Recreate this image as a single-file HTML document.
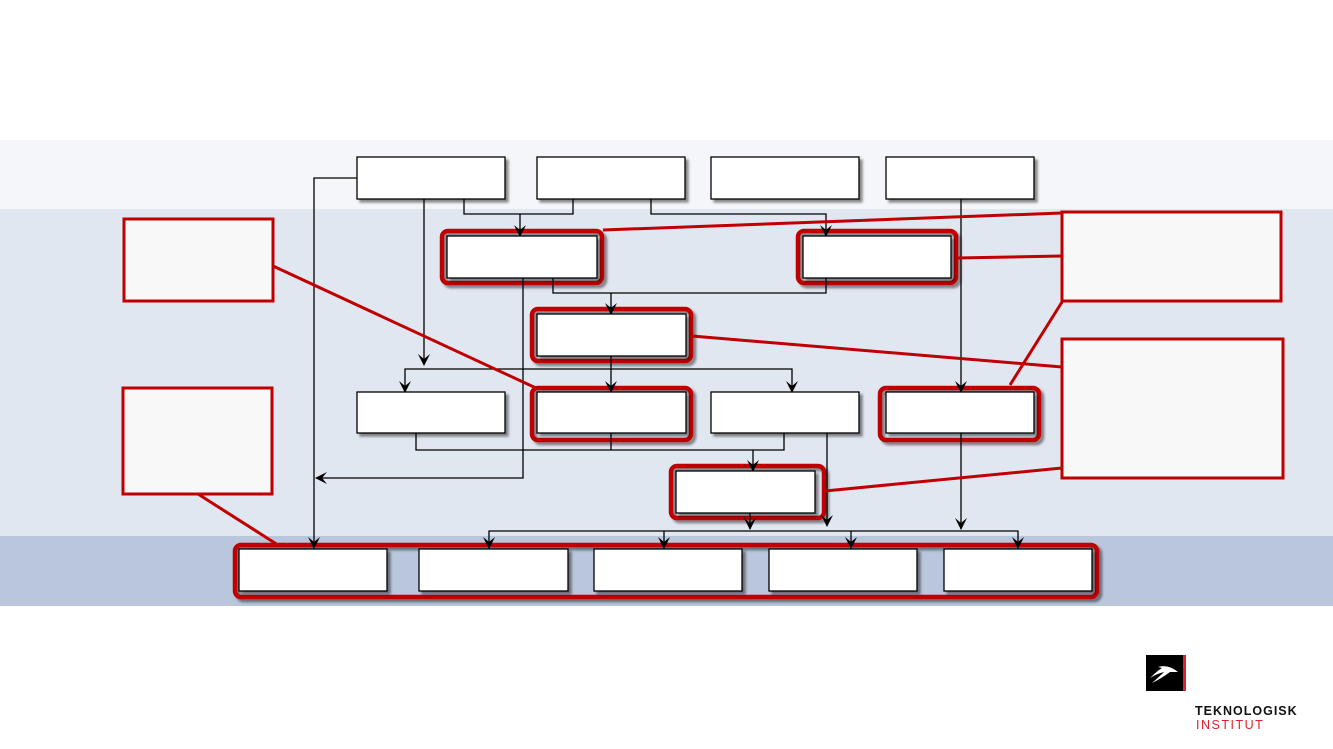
<!DOCTYPE html>
<html><head><meta charset="utf-8"><style>
html,body{margin:0;padding:0;background:#fff;width:1333px;height:749px;overflow:hidden}
</style></head><body>
<svg width="1333" height="749" xmlns="http://www.w3.org/2000/svg" style="position:absolute;left:0;top:0">
<defs>
<filter id="sh" x="-10%" y="-10%" width="130%" height="140%"><feDropShadow dx="3" dy="3" stdDeviation="1.2" flood-color="#000" flood-opacity="0.45"/></filter>
<path id="ad" d="M-6,-12 L0,0 L6,-12 L0,-7 Z" fill="#000"/>
</defs>
<rect x="0" y="140" width="1333" height="69" fill="#f5f6f9"/>
<rect x="0" y="209" width="1333" height="327" fill="#e1e7f1"/>
<rect x="0" y="536" width="1333" height="70" fill="#b9c6dc"/>

<g fill="none" stroke="#c00000" stroke-width="4.5" filter="url(#sh)">
<rect x="442" y="231" width="160" height="52" rx="6"/>
<rect x="798" y="231" width="158" height="52" rx="6"/>
<rect x="532" y="309" width="159" height="52" rx="6"/>
<rect x="532" y="388" width="159" height="52" rx="6"/>
<rect x="880" y="388" width="159" height="52" rx="6"/>
<rect x="671" y="466" width="153" height="52" rx="6"/>
<rect x="235" y="545" width="862" height="52" rx="6"/>
</g>

<g fill="none" stroke="#000" stroke-width="1.3">
<path d="M357,178 H314 V547"/>
<path d="M424,199 V364"/>
<path d="M464,199 V214 H573 V199"/>
<path d="M520,214 V235"/>
<path d="M651,199 V214 H826 V235"/>
<path d="M961,199 V391"/>
<path d="M523,278 V478 H316"/>
<path d="M553,278 V293 H826 V278"/>
<path d="M611,293 V313"/>
<path d="M611,356 V391"/>
<path d="M405,391 V369 H792 V391"/>
<path d="M416,433 V450 H784 V433"/>
<path d="M611,433 V450"/>
<path d="M753,450 V470"/>
<path d="M827,433 V526"/>
<path d="M961,433 V529"/>
<path d="M750,513 V529"/>
<path d="M489,548 V531 H1018 V548"/>
<path d="M664,531 V548"/>
<path d="M851,531 V548"/>
</g>
<g>
<use href="#ad" x="314" y="549"/>
<use href="#ad" x="424" y="366"/>
<use href="#ad" x="520" y="237"/>
<use href="#ad" x="826" y="237"/>
<use href="#ad" x="961" y="393"/>
<use href="#ad" x="611" y="315"/>
<use href="#ad" x="611" y="393"/>
<use href="#ad" x="405" y="393"/>
<use href="#ad" x="792" y="393"/>
<use href="#ad" x="753" y="472"/>
<use href="#ad" x="827" y="527"/>
<use href="#ad" x="961" y="530"/>
<use href="#ad" x="750" y="530"/>
<use href="#ad" x="489" y="549"/>
<use href="#ad" x="664" y="549"/>
<use href="#ad" x="851" y="549"/>
<use href="#ad" x="1018" y="549"/>
<path d="M315,478 L327,472 L322,478 L327,484 Z" fill="#000"/>
</g>

<g fill="#fff" stroke="#000" stroke-width="1.3" filter="url(#sh)">
<rect x="357" y="157" width="148" height="42"/>
<rect x="537" y="157" width="148" height="42"/>
<rect x="711" y="157" width="148" height="42"/>
<rect x="886" y="157" width="148" height="42"/>
<rect x="447" y="236" width="150" height="42"/>
<rect x="803" y="236" width="148" height="42"/>
<rect x="537" y="314" width="149" height="42"/>
<rect x="357" y="392" width="148" height="41"/>
<rect x="537" y="392" width="149" height="41"/>
<rect x="711" y="392" width="148" height="41"/>
<rect x="886" y="392" width="148" height="41"/>
<rect x="676" y="471" width="139" height="42"/>
<rect x="239" y="549" width="148" height="42"/>
<rect x="419" y="549" width="149" height="42"/>
<rect x="594" y="549" width="148" height="42"/>
<rect x="769" y="549" width="148" height="42"/>
<rect x="944" y="549" width="148" height="42"/>
</g>

<g fill="#f8f8f8" stroke="#c00000" stroke-width="3">
<rect x="124" y="219" width="149" height="82"/>
<rect x="123" y="388" width="149" height="106"/>
<rect x="1062" y="212" width="219" height="89"/>
<rect x="1062" y="339" width="221" height="139"/>
</g>
<g stroke="#c00000" stroke-width="3" fill="none">
<line x1="273" y1="266" x2="536" y2="388"/>
<line x1="198" y1="494" x2="278" y2="545"/>
<line x1="603" y1="230" x2="1062" y2="213"/>
<line x1="957" y1="258" x2="1062" y2="256"/>
<line x1="692" y1="336" x2="1062" y2="367"/>
<line x1="1010" y1="385" x2="1062" y2="302"/>
<line x1="825" y1="491" x2="1062" y2="468"/>
</g>

<rect x="1146" y="655" width="37" height="36" fill="#000"/>
<rect x="1183" y="655" width="3" height="36" fill="#e0202e"/>
<path d="M1158,667 Q1168,664 1178,672 L1170,672 Q1162,678 1152,683 Q1160,676 1164,672 Q1156,674 1150,678 Q1157,671 1162,668 Z" fill="#fff"/>
<text x="1195" y="715" font-family="Liberation Sans, sans-serif" font-weight="bold" font-size="12.5" letter-spacing="1" fill="#111">TEKNOLOGISK</text>
<text x="1196" y="729" font-family="Liberation Sans, sans-serif" font-size="12.5" letter-spacing="1.5" fill="#e0202e">INSTITUT</text>
</svg>
</body></html>
